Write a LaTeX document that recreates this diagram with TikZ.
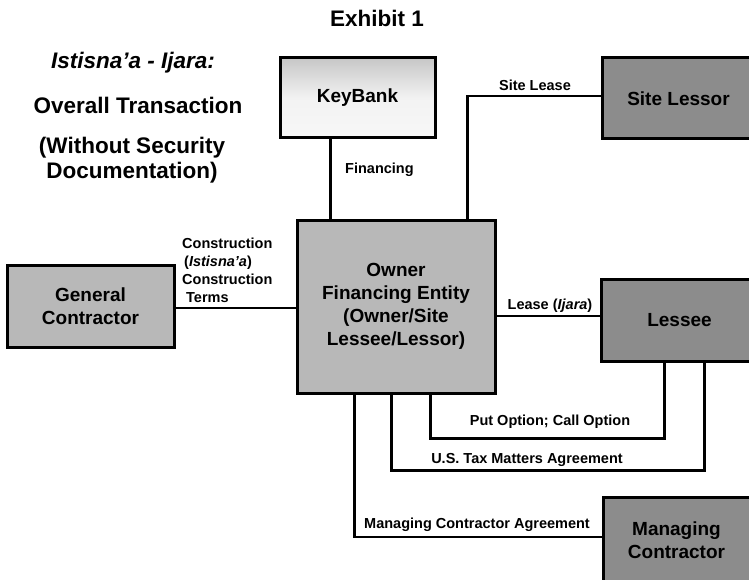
\documentclass[tikz,border=0pt]{standalone}
\usepackage{fontspec}
\setmainfont{Liberation Sans}
\begin{document}
\begin{tikzpicture}[x=1pt,y=-1pt,
  box/.style={draw=black, line width=3pt, font=\fontsize{19}{23}\selectfont\bfseries, align=center, inner sep=0pt},
  lightbox/.style={box, top color=black!22, bottom color=black!3, middle color=black!5},
  midbox/.style={box, fill=black!28},
  darkbox/.style={box, fill=black!45},
  lbl/.style={font=\fontsize{14.5}{18}\selectfont\bfseries, inner sep=0pt},
  ttl/.style={font=\fontsize{22.5}{25}\selectfont\bfseries, inner sep=0pt, align=center},
  conn/.style={line width=2.2pt}]
\useasboundingbox (0,0) rectangle (749,580);
\fill[white] (0,0) rectangle (749,580);
\clip (0,0) rectangle (749,580);

% titles
\node[ttl] (t0) at (377,18) {Exhibit 1};
\node[ttl] (t1) at (133,63) {\itshape Istisna’a - Ijara:};
\node[ttl] (t2) at (138,105) {Overall Transaction};
\node[ttl] (t3) at (132,160) {(Without Security\\Documentation)};

% boxes
\node[lightbox, minimum width=155, minimum height=80] (kb) at (357.5,98) {KeyBank};
\node[darkbox, minimum width=153, minimum height=81] (sl) at (678.5,98.5) {Site Lessor};
\node[midbox, minimum width=167, minimum height=82] (gc) at (90.5,306) {General\\Contractor};
\node[midbox, minimum width=198, minimum height=173] (own) at (396,306.5) {Owner\\Financing Entity\\(Owner/Site\\Lessee/Lessor)};
\node[darkbox, minimum width=157, minimum height=82] (ls) at (679.5,320) {Lessee};
\node[darkbox, minimum width=147, minimum height=86] (mc) at (676.5,540) {Managing\\Contractor};

% connector anchor points
\coordinate (kbx) at ([xshift=52]kb.south west);
\coordinate (slx) at ([xshift=-29]own.north east);
\coordinate (p1) at ([xshift=135]own.south west);
\coordinate (p2) at ([xshift=96]own.south west);
\coordinate (p3) at ([xshift=59]own.south west);
\coordinate (l1) at ([xshift=65]ls.south west);
\coordinate (l2) at ([xshift=105]ls.south west);

% connectors
\draw[conn] (kbx) -- (kbx |- own.north);
\draw[conn] ([yshift=2.5]sl.west) -| (slx);
\draw[conn] ([yshift=-2]gc.east) -- ([yshift=-2]gc.east -| own.west);
\draw[conn] ([yshift=4]ls.west) -- ([yshift=4]ls.west -| own.east);
\draw[conn] (p1) -- ++(0,44) -| (l1);
\draw[conn] (p2) -- ++(0,76) -| (l2);
\draw[conn] (p3) |- ([yshift=3]mc.west);

% labels
\node[lbl, anchor=west] (fin) at (345,170) {Financing};
\node[lbl] (sll) at (535,85) {Site Lease};
\node[lbl, anchor=west, align=left] (cons) at (182,270) {Construction\\\hspace{2pt}(\textit{Istisna’a})\\Construction\\\hspace{4pt}Terms};
\node[lbl] (lease) at (550,306) {Lease (\textit{Ijara})};
\node[lbl] (put) at (550,422) {Put Option; Call Option};
\node[lbl] (tax) at (527,460) {U.S. Tax Matters Agreement};
\node[lbl] (mca) at (477,525) {Managing Contractor Agreement};
\end{tikzpicture}
\end{document}
